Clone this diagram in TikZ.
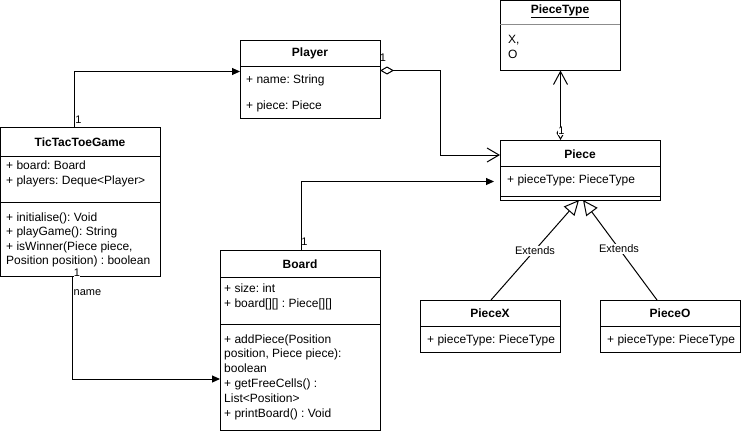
\documentclass[tikz,border=0pt]{standalone}
\usepackage{fontspec}
\setmainfont{Liberation Sans}
\usetikzlibrary{arrows.meta}
\begin{document}
\frenchspacing
\begin{tikzpicture}[x=1pt,y=-1pt,
  cls/.style={draw, line width=1pt, anchor=north west, inner sep=0pt, outer sep=0pt, fill=white},
  ttl/.style={font=\bfseries\fontsize{12}{14}\selectfont, inner sep=0pt},
  txt/.style={font=\fontsize{12}{14.4}\selectfont, align=left, anchor=west, inner sep=0pt},
  lbl/.style={font=\fontsize{11}{13}\selectfont, inner sep=0.5pt},
  mult/.style={font=\fontsize{11}{12}\selectfont, inner sep=0.3pt},
  conn/.style={line width=1pt},
  solidarrow/.style={-{Triangle[length=8pt,width=7pt]}},
  inherit/.style={-{Triangle[open,length=15pt,width=14pt,fill=white]}}
]
\useasboundingbox (0,0) rectangle (741,434);
\fill[white] (0,0) rectangle (741,434);

% Player
\node[cls, minimum width=140pt, minimum height=78pt] (player) at (240,40) {};
\draw[conn] (player.west |- 0,66) -- (player.east |- 0,66);
\node[ttl] (playerT) at (310,53) {Player};
\node[txt] (playerA) at (246,80) {+ name: String};
\node[txt] (playerB) at (246,106) {+ piece: Piece};

% TicTacToeGame
\node[cls, minimum width=159.5pt, minimum height=149pt] (ttt) at (0.5,127) {};
\draw[conn] (ttt.west |- 0,156) -- (ttt.east |- 0,156);
\draw[conn] (ttt.west |- 0,202) -- (ttt.east |- 0,202);
\node[ttl] (tttT) at (80,142) {TicTacToeGame};
\node[txt] (tttA) at (6,174) {+ board: Board\\+ players: Deque<Player>};
\node[txt] (tttM) at (6,240) {+ initialise(): Void\\+ playGame(): String\\+ isWinner(Piece piece,\\Position position) : boolean};

% Board
\node[cls, minimum width=160pt, minimum height=180pt] (board) at (220,250) {};
\draw[conn] (board.west |- 0,277) -- (board.east |- 0,277);
\draw[conn] (board.west |- 0,324) -- (board.east |- 0,324);
\node[ttl] (boardT) at (300,264) {Board};
\node[txt] (boardA) at (224,297) {+ size: int\\+ board[][] : Piece[][]};
\node[txt, font=\fontsize{12}{14.8}\selectfont] (boardM) at (224,377) {+ addPiece(Position\\position, Piece piece):\\boolean\\+ getFreeCells() :\\List<Position>\\+ printBoard() : Void};

% PieceType
\node[cls, minimum width=120pt, minimum height=70pt] (ptype) at (500,0.5) {};
\draw[line width=1pt, black!45] (ptype.west |- 0,24) -- (ptype.east |- 0,24);
\node[ttl] (ptypeT) at (560,11) {\underline{PieceType}};
\node[txt, font=\fontsize{12}{15}\selectfont] (ptypeA) at (508,46.5) {X,\\O};

% Piece
\node[cls, minimum width=160pt, minimum height=60pt] (piece) at (500,140) {};
\draw[conn] (piece.west |- 0,166) -- (piece.east |- 0,166);
\draw[conn] (piece.west |- 0,196) -- (piece.east |- 0,196);
\node[ttl] (pieceT) at (580,154) {Piece};
\node[txt] (pieceA) at (507,180) {+ pieceType: PieceType};

% PieceX
\node[cls, minimum width=140pt, minimum height=52pt] (piecex) at (420,300) {};
\draw[conn] (piecex.west |- 0,326) -- (piecex.east |- 0,326);
\node[ttl] (piecexT) at (490,313) {PieceX};
\node[txt] (piecexA) at (427,340) {+ pieceType: PieceType};

% PieceO
\node[cls, minimum width=140pt, minimum height=52pt] (pieceo) at (600,300) {};
\draw[conn] (pieceo.west |- 0,326) -- (pieceo.east |- 0,326);
\node[ttl] (pieceoT) at (670,313) {PieceO};
\node[txt] (pieceoA) at (607,340) {+ pieceType: PieceType};

% Connectors
\draw[conn, solidarrow] (ttt.north -| 74,0) -- (74,71.5) -- (player.west |- 0,71.5);
\draw[conn, {Diamond[open,length=14pt,width=8pt]}-{Straight Barb[length=12pt,width=14pt]}]
  (player.east |- 0,70.5) -- (440.5,70.5) -- (440.5,155) -- (piece.west |- 0,155);
\draw[conn, solidarrow] (board.north -| 301,0) -- (301,181.5) -- ([xshift=-6pt]piece.west |- 0,181.5);
\draw[conn, solidarrow] (ttt.south -| 72,0) -- (72,379) -- (board.west |- 0,379);
\draw[conn, {Diamond[open,length=14pt,width=8pt]}-{Straight Barb[length=13pt,width=14pt]}]
  (piece.north -| 560.5,0) -- (ptype.south -| 560.5,0);
\draw[conn, inherit] (piecex.north -| 491,0) -- (piece.south -| 579,0);
\draw[conn, inherit] (pieceo.north -| 657,0) -- (piece.south -| 583,0);

% Labels
\node[lbl, fill=white] (ext1) at (535,251) {Extends};
\node[lbl, fill=white] (ext2) at (619,249) {Extends};
\node[lbl, anchor=west] (nameL) at (73,293) {name};
\node[mult] (m1) at (78.5,120) {1};
\node[mult] (m2) at (383,58) {1};
\node[mult] (m3) at (304.5,242) {1};
\node[mult, fill=white] (m4) at (77,273) {1};
\node[mult, fill=white] (m5) at (561.5,131) {1};
\end{tikzpicture}
\end{document}
